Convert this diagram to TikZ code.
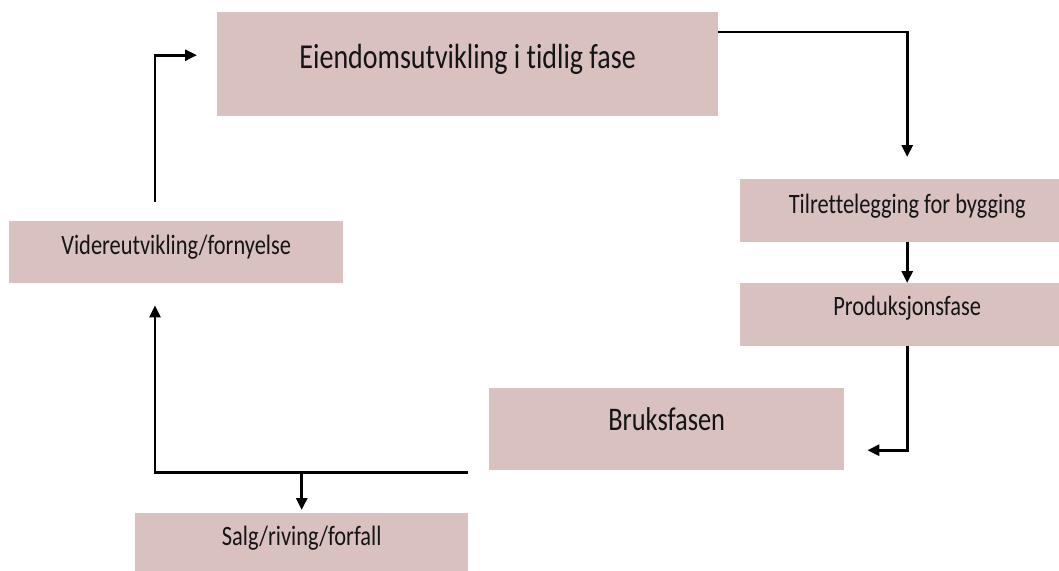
\documentclass[tikz,border=0pt]{standalone}
\usepackage{fontspec}
\setmainfont[FakeStretch=0.8, Ligatures=NoCommon]{Carlito}
\usetikzlibrary{arrows.meta}
\definecolor{boxfill}{RGB}{216,193,191}
\begin{document}
\begin{tikzpicture}[x=1pt,y=-1pt,
  stage/.style={fill=boxfill, inner sep=0pt, align=flush center, anchor=north west, text=black!92},
  conn/.style={line width=2.8pt, -{Triangle[length=12pt,width=11pt]}},
  fs/.style={font=\fontsize{#1pt}{#1pt}\selectfont}]
\clip (0,0) rectangle (1059,570);

% process stages
\node[stage, fs=35, text width=501pt, text height=56pt, text depth=48pt] (b1) at (217,12)  {Eiendomsutvikling i tidlig fase};
\node[stage, fs=28, text width=334pt, text height=34pt, text depth=29pt] (b2) at (740,179) {Tilrettelegging for bygging};
\node[stage, fs=28, text width=334pt, text height=32pt, text depth=31pt] (b3) at (740,283) {Produksjonsfase};
\node[stage, fs=33, text width=355pt, text height=42pt, text depth=40pt] (b4) at (489,388) {Bruksfasen};
\node[stage, fs=28, text width=333pt, text height=32pt, text depth=35pt] (b5) at (135,513) {Salg/riving/forfall};
\node[stage, fs=28, text width=334pt, text height=33pt, text depth=29pt] (b6) at (9,221)   {Videreutvikling/fornyelse};

% flow between stages
\draw[conn] ([yshift=-20pt]b1.north east) -| ([yshift=22pt]b2.north);
\draw[conn] (b2.south) -- (b3.north);
\draw[conn] (b3.south) |- ([xshift=23pt,yshift=-21pt]b4.east);
\draw[conn] ([xshift=-21pt,yshift=-2pt]b4.south west) -| ([xshift=146pt,yshift=-22pt]b6.south west);
\draw[conn] ([yshift=41pt]b5.north) -- ([yshift=3pt]b5.north);
\draw[conn] ([xshift=146pt,yshift=19pt]b6.north west) |- ([xshift=-20pt,yshift=9pt]b1.west);
\end{tikzpicture}
\end{document}
